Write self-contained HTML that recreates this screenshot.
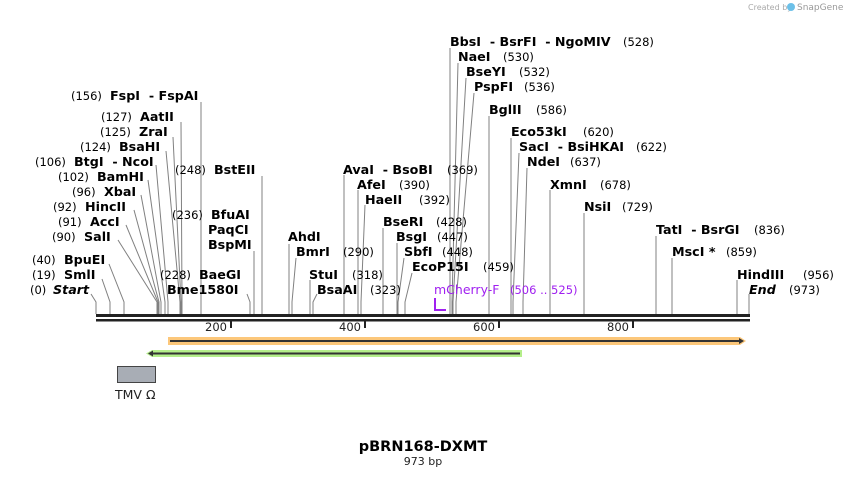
<!DOCTYPE html>
<html><head><meta charset="utf-8"><style>
html,body{margin:0;padding:0;background:#fff;}
svg{display:block;font-family:"DejaVu Sans","Liberation Sans",sans-serif;}
.n{font-size:11.5px;fill:#000;}
.b{font-size:12.7px;font-weight:bold;fill:#000;white-space:pre;}
.l{stroke:#808080;stroke-width:1;fill:none;}
</style></head><body>
<svg width="846" height="477" viewBox="0 0 846 477" xmlns="http://www.w3.org/2000/svg" xml:space="preserve">
<text x="748" y="10" font-size="8" fill="#aaa">Created by</text><text x="797" y="10" font-size="9" fill="#999">SnapGene</text>
<circle cx="791" cy="7" r="4" fill="#6cc0e8"/>

<g class="l">
<polyline points="91,294 96,302 96,314"/>
<polyline points="102,279 110,302 110,314"/>
<polyline points="109,264 124,302 124,314"/>
<polyline points="118,240 157,302 157,314"/>
<polyline points="126,225 158,302 158,314"/>
<polyline points="134,210 159,302 159,314"/>
<polyline points="141,195 161,302 161,314"/>
<polyline points="148,180 165,302 165,314"/>
<polyline points="156,165 168,302 168,314"/>
<polyline points="166,151 180,302 180,314"/>
<polyline points="173,137 181,302 181,314"/>
<polyline points="181,122 182,302 182,314"/>
<polyline points="201,102 201,314"/>
<polyline points="262,176 262,314"/>
<polyline points="254,251 254,314"/>
<polyline points="247,294 250,302 250,314"/>
<polyline points="289,244 289,314"/>
<polyline points="296,258 292,302 292,314"/>
<polyline points="310,280 310,314"/>
<polyline points="317,294 313,302 313,314"/>
<polyline points="344,175 344,314"/>
<polyline points="358,190 358,314"/>
<polyline points="365,205 361,302 361,314"/>
<polyline points="383,228 383,314"/>
<polyline points="397,243 397,314"/>
<polyline points="404,258 398,302 398,314"/>
<polyline points="412,273 405,302 405,314"/>
<polyline points="450,48 450,314"/>
<polyline points="458,63 452,302 452,314"/>
<polyline points="466,78 453,302 453,314"/>
<polyline points="474,93 456,302 456,314"/>
<polyline points="489,116 489,314"/>
<polyline points="511,138 511,314"/>
<polyline points="519,153 513,302 513,314"/>
<polyline points="527,168 523,302 523,314"/>
<polyline points="550,190 550,314"/>
<polyline points="584,213 584,314"/>
<polyline points="656,236 656,314"/>
<polyline points="672,258 672,314"/>
<polyline points="737,280 737,314"/>
<polyline points="749,294 749,314"/>
</g>

<text x="71" y="100" class="n">(156)</text><text x="110" y="100" class="b">FspI  - FspAI</text>
<text x="101" y="121" class="n">(127)</text><text x="140" y="121" class="b">AatII</text>
<text x="100" y="136" class="n">(125)</text><text x="139" y="136" class="b">ZraI</text>
<text x="80" y="151" class="n">(124)</text><text x="119" y="151" class="b">BsaHI</text>
<text x="35" y="166" class="n">(106)</text><text x="74" y="166" class="b">BtgI  - NcoI</text>
<text x="58" y="181" class="n">(102)</text><text x="97" y="181" class="b">BamHI</text>
<text x="72" y="196" class="n">(96)</text><text x="104" y="196" class="b">XbaI</text>
<text x="53" y="211" class="n">(92)</text><text x="85" y="211" class="b">HincII</text>
<text x="58" y="226" class="n">(91)</text><text x="90" y="226" class="b">AccI</text>
<text x="52" y="241" class="n">(90)</text><text x="84" y="241" class="b">SalI</text>
<text x="32" y="264" class="n">(40)</text><text x="64" y="264" class="b">BpuEI</text>
<text x="32" y="279" class="n">(19)</text><text x="64" y="279" class="b">SmlI</text>
<text x="30" y="294" class="n">(0)</text><text x="53" y="294" class="b" font-style="italic">Start</text>
<text x="175" y="174" class="n">(248)</text><text x="214" y="174" class="b">BstEII</text>
<text x="172" y="219" class="n">(236)</text><text x="211" y="219" class="b">BfuAI</text>
<text x="208" y="234" class="b">PaqCI</text>
<text x="208" y="249" class="b">BspMI</text>
<text x="160" y="279" class="n">(228)</text><text x="199" y="279" class="b">BaeGI</text>
<text x="167" y="294" class="b">Bme1580I</text>
<text x="288" y="241" class="b">AhdI</text>
<text x="296" y="256" class="b">BmrI</text><text x="343" y="256" class="n">(290)</text>
<text x="309" y="279" class="b">StuI</text><text x="352" y="279" class="n">(318)</text>
<text x="317" y="294" class="b">BsaAI</text><text x="370" y="294" class="n">(323)</text>

<text x="343" y="174" class="b">AvaI  - BsoBI</text><text x="447" y="174" class="n">(369)</text>
<text x="357" y="189" class="b">AfeI</text><text x="399" y="189" class="n">(390)</text>
<text x="365" y="204" class="b">HaeII</text><text x="419" y="204" class="n">(392)</text>
<text x="383" y="226" class="b">BseRI</text><text x="436" y="226" class="n">(428)</text>
<text x="396" y="241" class="b">BsgI</text><text x="437" y="241" class="n">(447)</text>
<text x="404" y="256" class="b">SbfI</text><text x="442" y="256" class="n">(448)</text>
<text x="412" y="271" class="b">EcoP15I</text><text x="483" y="271" class="n">(459)</text>
<text x="434" y="294" font-size="12.5" fill="#a020f0">mCherry-F</text><text x="510" y="294" font-size="11.5" fill="#a020f0">(506 .. 525)</text>
<polyline points="435,298 435,310 446,310" stroke="#a020f0" stroke-width="2" fill="none"/>

<text x="450" y="46" class="b">BbsI  - BsrFI  - NgoMIV</text><text x="623" y="46" class="n">(528)</text>
<text x="458" y="61" class="b">NaeI</text><text x="503" y="61" class="n">(530)</text>
<text x="466" y="76" class="b">BseYI</text><text x="519" y="76" class="n">(532)</text>
<text x="474" y="91" class="b">PspFI</text><text x="524" y="91" class="n">(536)</text>
<text x="489" y="114" class="b">BglII</text><text x="536" y="114" class="n">(586)</text>
<text x="511" y="136" class="b">Eco53kI</text><text x="583" y="136" class="n">(620)</text>
<text x="519" y="151" class="b">SacI  - BsiHKAI</text><text x="636" y="151" class="n">(622)</text>
<text x="527" y="166" class="b">NdeI</text><text x="570" y="166" class="n">(637)</text>
<text x="550" y="189" class="b">XmnI</text><text x="600" y="189" class="n">(678)</text>
<text x="584" y="211" class="b">NsiI</text><text x="622" y="211" class="n">(729)</text>
<text x="656" y="234" class="b">TatI  - BsrGI</text><text x="754" y="234" class="n">(836)</text>
<text x="672" y="256" class="b">MscI *</text><text x="726" y="256" class="n">(859)</text>
<text x="737" y="279" class="b">HindIII</text><text x="803" y="279" class="n">(956)</text>
<text x="749" y="294" class="b" font-style="italic">End</text><text x="789" y="294" class="n">(973)</text>

<rect x="96" y="314" width="654" height="3" fill="#222"/>
<rect x="96" y="319" width="654" height="2.5" fill="#222"/>
<g stroke="#222" stroke-width="2">
<line x1="231" y1="321" x2="231" y2="328"/><line x1="365" y1="321" x2="365" y2="328"/>
<line x1="499" y1="321" x2="499" y2="328"/><line x1="633" y1="321" x2="633" y2="328"/>
</g>
<g font-size="11.5" fill="#222">
<text x="205" y="331">200</text><text x="339" y="331">400</text><text x="473" y="331">600</text><text x="607" y="331">800</text>
</g>

<polygon points="168,337 740,337 746,341 740,345 168,345" fill="#fcc77a"/>
<line x1="170" y1="341" x2="741" y2="341" stroke="#333" stroke-width="2"/>
<polygon points="739,338 744,341 739,344" fill="#333"/>
<polygon points="152,350 522,350 522,357 152,357 146,353.5" fill="#b4ee8a"/>
<line x1="150" y1="353.5" x2="520" y2="353.5" stroke="#333" stroke-width="2"/>
<polygon points="153,350.5 148,353.5 153,356.5" fill="#333"/>
<rect x="117.5" y="366.5" width="38" height="16" fill="#a8adb5" stroke="#444" stroke-width="1"/>
<text x="115" y="399" font-size="12.5" fill="#222">TMV Ω</text>

<text x="423" y="451" text-anchor="middle" font-size="14.5" font-weight="bold" fill="#000">pBRN168-DXMT</text>
<text x="423" y="465" text-anchor="middle" font-size="11" fill="#222">973 bp</text>
</svg>
</body></html>
